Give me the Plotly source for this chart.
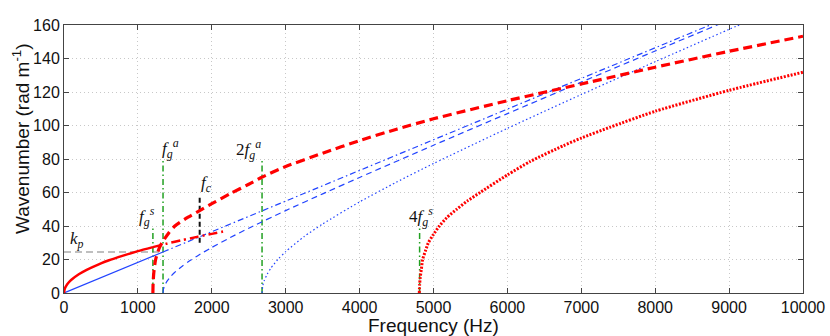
import plotly.graph_objects as go

# ---- data (frequency in Hz, wavenumber in rad/m) ----
# structural flexural wave, free part (solid) and its continuation (dash-dot)
red_solid_f = [0, 10, 30, 60, 100, 200, 300, 400, 500, 600, 800, 1000, 1203]
red_solid_k = [0, 2.5, 4.3, 6.1, 7.9, 11.2, 13.7, 15.8, 17.7, 19.4, 22.3, 25.0, 27.4]
red_dashdot_f = [1203, 1400, 1600, 1800, 2000, 2200]
red_dashdot_k = [27.4, 29.6, 31.6, 33.5, 35.3, 37.1]

# structural guided modes
red_dash_f = [1203, 1206, 1215, 1240, 1290, 1340, 1420, 1500, 1650, 1836, 2000, 2250,
              2500, 2662, 3000, 3500, 4000, 4500, 5000, 6000, 7000, 8000, 9000, 10000]
red_dash_k = [0, 6, 12, 20, 27, 31, 36, 40, 44.5, 49.2, 53.3, 59.3,
              64.9, 68.8, 75.5, 83.5, 91, 97.8, 104, 114.8, 124.8, 134.8, 144.3, 153.3]
red_dot_f = [4808, 4812, 4820, 4835, 4853, 4890, 4930, 5000, 5079, 5180, 5314, 5460,
             5630, 6000, 6308, 6759, 7000, 7392, 8000, 9000, 10000]
red_dot_k = [0, 5, 9, 14, 20, 25, 30, 35, 40, 45, 50, 55,
             60, 70.5, 78.5, 88, 92.5, 99, 108.5, 121, 131.8]

# acoustic wave (solid then dash-dot) and duct modes
blue_solid_f = [0, 1340]
blue_solid_k = [0, 24.5]
blue_dashdot_f = [1340, 10000]
blue_dashdot_k = [24.5, 183]
blue_dash_f = [1340, 1345, 1360, 1380, 1400, 1450, 1500, 1600, 1700, 1800, 2000, 2250,
               2500, 3000, 3500, 4000, 5000, 6000, 7000, 8000, 9000]
blue_dash_k = [0, 2.1, 4.3, 6.0, 7.4, 10.2, 12.4, 16.0, 19.2, 22.0, 27.2, 33.1,
               38.7, 49.2, 59.2, 69.0, 88.2, 107.1, 125.9, 144.5, 163.0]
blue_dot_f = [2680, 2690, 2710, 2750, 2800, 2900, 3000, 3250, 3500, 4000, 4500, 5000,
              6000, 7000, 8000, 9000, 9500]
blue_dot_k = [0, 4.3, 7.4, 11.3, 14.9, 20.3, 24.7, 33.7, 41.2, 54.4, 66.2, 77.3,
              98.3, 118.5, 138.1, 157.4, 166.9]

# markers: coincidence / cut-on frequencies
guide_f = [1203, 1340, 2680, 4812]
guide_top = [40, 80, 80, 40]
fc_f = 1836
fc_k = [30, 57]
kp = 24.5
kp_end = 1340

# labels: (text, x, y)
labels = [
    ("<i>k</i><sub><i>p</i></sub>", 170, 31.5),
    ("<i>f</i><sub><i>g</i></sub><sup><i>s</i></sup>", 1125, 45.5),
    ("<i>f</i><sub><i>g</i></sub><sup><i>a</i></sup>", 1440, 86),
    ("2<i>f</i><sub><i>g</i></sub><sup><i>a</i></sup>", 2490, 85.5),
    ("<i>f</i><sub><i>c</i></sub>", 1930, 65),
    ("4<i>f</i><sub><i>g</i></sub><sup><i>s</i></sup>", 4830, 45.5),
]

RED = "#FF0000"
BLUE = "#2244FF"
GREEN = "#22A022"
SANS = "Liberation Sans, Arial, sans-serif"
SERIF = "Liberation Serif, Times New Roman, serif"

fig = go.Figure()


def add_line(x, y, color, width, dash, shape="linear"):
    fig.add_trace(
        go.Scatter(
            x=x, y=y, mode="lines",
            line=dict(color=color, width=width, dash=dash, shape=shape, smoothing=0.6),
            showlegend=False, hoverinfo="skip",
        )
    )


# reference levels
add_line([0, kp_end], [kp, kp], "#AAAAAA", 1.5, "7px,4px")
for f, top in zip(guide_f, guide_top):
    add_line([f, f], [0, top], GREEN, 1.5, "6px,3px,1.5px,3px")
add_line([fc_f, fc_f], fc_k, "#111111", 2, "5px,3px")

# acoustic branch
add_line(blue_solid_f, blue_solid_k, BLUE, 1.2, "solid")
add_line(blue_dashdot_f, blue_dashdot_k, BLUE, 1.2, "6px,3px,1.5px,3px")
add_line(blue_dash_f, blue_dash_k, BLUE, 1.2, "6px,4px", "spline")
add_line(blue_dot_f, blue_dot_k, BLUE, 1.2, "1.5px,2.5px", "spline")

# structural branch
add_line(red_solid_f, red_solid_k, RED, 2.5, "solid", "spline")
add_line(red_dashdot_f, red_dashdot_k, RED, 2.5, "9px,4px,2px,4px", "spline")
add_line(red_dash_f, red_dash_k, RED, 3.2, "9px,5px", "spline")
add_line(red_dot_f, red_dot_k, RED, 3, "2px,1.5px", "spline")

for text, x, y in labels:
    fig.add_annotation(
        x=x, y=y, xref="x", yref="y", text=text, showarrow=False,
        font=dict(family=SERIF, size=17, color="#111111"),
        xanchor="center", yanchor="middle",
    )

fig.add_annotation(
    text="Frequency (Hz)", xref="paper", yref="paper", x=0.5, y=-0.122,
    showarrow=False, xanchor="center", yanchor="middle",
    font=dict(family=SANS, size=19, color="#111111"),
)
fig.add_annotation(
    text="Wavenumber (rad m<sup>-1</sup>)", xref="paper", yref="paper",
    x=-0.058, y=0.575, textangle=-90, showarrow=False,
    xanchor="center", yanchor="middle",
    font=dict(family=SANS, size=19, color="#111111"),
)

axis_common = dict(
    showline=True, linecolor="#444444", linewidth=1, mirror="ticks",
    ticks="inside", ticklen=5, tickcolor="#444444",
    showgrid=True, gridcolor="#C8C8C8", griddash="1px,3px", gridwidth=1,
    zeroline=False, automargin=False,
    tickfont=dict(family=SANS, size=16, color="#111111"),
)

fig.update_layout(
    width=830, height=336,
    margin=dict(l=64, r=27, t=25, b=43),
    paper_bgcolor="white", plot_bgcolor="white",
    xaxis=dict(range=[0, 10000], tickvals=[0, 1000, 2000, 3000, 4000, 5000, 6000, 7000, 8000, 9000, 10000],
               ticktext=["0", "1000", "2000", "3000", "4000", "5000", "6000", "7000", "8000", "9000", "10000"],
               **axis_common),
    yaxis=dict(range=[0, 160], tickvals=[0, 20, 40, 60, 80, 100, 120, 140, 160], **axis_common),
)

# the page adds a default body margin; drop it so the figure fills the window
fig.write_html(
    "out.html",
    config={"displayModeBar": False},
    post_script="document.body.style.margin='0';",
)
